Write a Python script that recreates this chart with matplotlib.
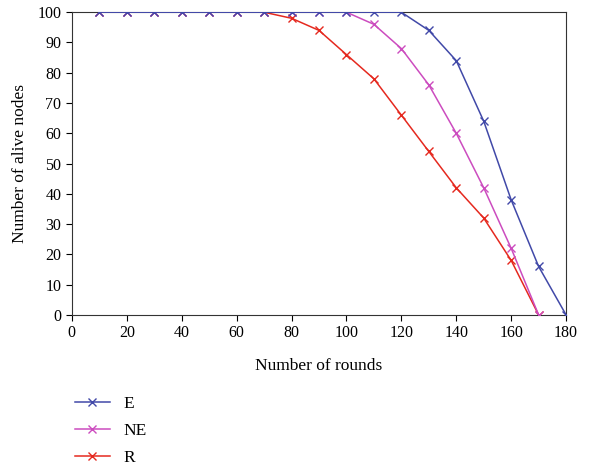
import numpy as np
from matplotlib import pyplot as plt

plt.rcParams['font.family'] = ['Liberation Serif', 'DejaVu Serif']

rounds = [10, 20, 30, 40, 50, 60, 70, 80, 90, 100, 110, 120, 130, 140, 150, 160, 170, 180]
alive_e = [100, 100, 100, 100, 100, 100, 100, 100, 100, 100, 100, 100, 94, 84, 64, 38, 16, 0]
alive_ne = [100, 100, 100, 100, 100, 100, 100, 100, 100, 100, 96, 88, 76, 60, 42, 22, 0]
alive_r = [100, 100, 100, 100, 100, 100, 100, 98, 94, 86, 78, 66, 54, 42, 32, 18, 0]

fig = plt.figure(figsize=(5.94, 4.70), dpi=100)
ax = fig.add_axes([0.121, 0.330, 0.832, 0.644])

l_e, = ax.plot(rounds, alive_e, color='#4149a8', marker='x', markersize=6, lw=1.1, zorder=4, label='E')
l_ne, = ax.plot(rounds[:len(alive_ne)], alive_ne, color='#cc4cbf', marker='x', markersize=6, lw=1.1, zorder=3, label='NE')
l_r, = ax.plot(rounds[:len(alive_r)], alive_r, color='#e5291f', marker='x', markersize=6, lw=1.1, zorder=2, label='R')

ax.set_xlim(0, 180)
ax.set_ylim(0, 100)
ax.set_xticks(np.arange(0, 181, 20))
ax.set_yticks(np.arange(0, 101, 10))
ax.tick_params(labelsize=11.5, direction='out', length=4)
ax.set_xlabel('Number of rounds', fontsize=12.5, labelpad=12)
ax.set_ylabel('Number of alive nodes', fontsize=12.5, labelpad=7)
for s in ax.spines.values():
    s.set_color('#333333')

fig.legend(handles=[l_e, l_ne, l_r], loc='upper left', bbox_to_anchor=(0.10, 0.19),
           frameon=False, fontsize=12.5, handlelength=2.0, labelspacing=0.6)

fig.savefig('out.png', dpi=100)
